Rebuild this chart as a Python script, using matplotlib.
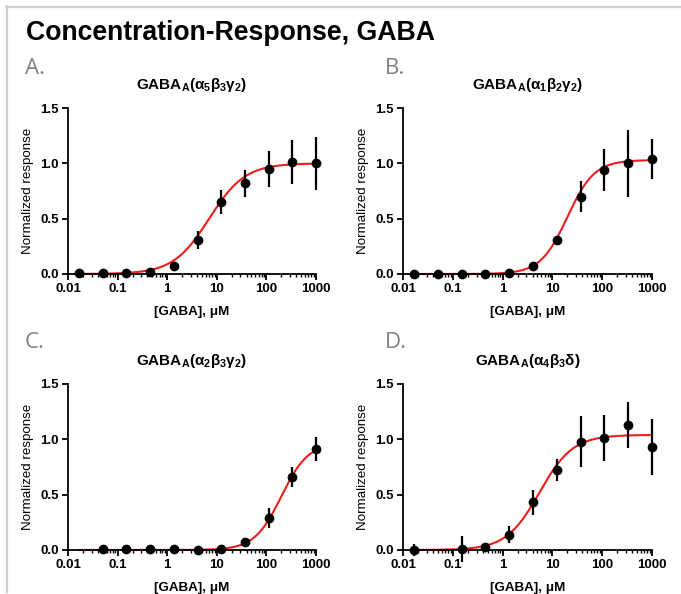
import matplotlib
matplotlib.use("Agg")
import matplotlib.pyplot as plt
import numpy as np
from matplotlib.lines import Line2D
from matplotlib.ticker import LogLocator, FixedLocator, NullFormatter

plt.rcParams["font.family"] = ["Liberation Sans", "DejaVu Sans"]
plt.rcParams["mathtext.fontset"] = "custom"
plt.rcParams["mathtext.rm"] = "Liberation Sans:bold"
plt.rcParams["mathtext.it"] = "Liberation Sans:bold"

# GABA concentrations, uM (3-fold dilution series)
conc = [0.0167, 0.05, 0.15, 0.45, 1.37, 4.1, 12.3, 37, 111, 333, 1000]

# panel A: a5b3g2
a_x = conc
a_y = [0.01, 0.01, 0.01, 0.02, 0.07, 0.31, 0.65, 0.82, 0.95, 1.01, 1.00]
a_err = [0.0, 0.0, 0.0, 0.01, 0.02, 0.08, 0.11, 0.12, 0.16, 0.20, 0.24]

# panel B: a1b2g2
b_x = conc
b_y = [0.0, 0.0, 0.0, 0.0, 0.01, 0.07, 0.31, 0.70, 0.94, 1.00, 1.04]
b_err = [0.0, 0.0, 0.0, 0.0, 0.0, 0.02, 0.02, 0.14, 0.19, 0.30, 0.18]

# panel C: a2b3g2 (no 0.0167 point)
c_x = conc[1:]
c_y = [0.01, 0.005, 0.005, 0.01, 0.0, 0.01, 0.07, 0.29, 0.66, 0.91]
c_err = [0.03, 0.0, 0.0, 0.0, 0.0, 0.01, 0.04, 0.09, 0.09, 0.11]

# panel D: a4b3d (no 0.05 point)
d_x = [conc[0]] + conc[2:]
d_y = [0.0, 0.01, 0.03, 0.14, 0.43, 0.72, 0.98, 1.01, 1.13, 0.93]
d_err = [0.05, 0.12, 0.03, 0.08, 0.11, 0.10, 0.23, 0.21, 0.21, 0.25]

# Hill fit parameters per panel: top, EC50 (uM), Hill slope
fit_top = [1.0, 1.03, 0.97, 1.04]
fit_ec50 = [7.0, 20.0, 200.0, 5.5]
fit_hill = [1.2, 1.6, 1.6, 1.3]

titles = [r"GABA$_{A}$(α$_{5}$β$_{3}$γ$_{2}$)",
          r"GABA$_{A}$(α$_{1}$β$_{2}$γ$_{2}$)",
          r"GABA$_{A}$(α$_{2}$β$_{3}$γ$_{2}$)",
          r"GABA$_{A}$(α$_{4}$β$_{3}$δ)"]
letters = ["A.", "B.", "C.", "D."]

W, H = 681, 594
fig = plt.figure(figsize=(W / 100, H / 100), dpi=100)

# gray frame (top and left)
fig.add_artist(Line2D([6 / W, 1], [1 - 6.5 / H] * 2, color="#cfcfcf", lw=1.6))
fig.add_artist(Line2D([6.5 / W] * 2, [1 - 6 / H, 1 - 592 / H], color="#cfcfcf", lw=1.6))

fig.text(26 / W, 1 - 33 / H, "Concentration-Response, GABA", fontsize=19.2,
         fontweight="bold", va="center", ha="left")

# axes boxes in pixels: left, right, top, bottom
boxes = [(68, 316, 108, 274), (403, 652, 108, 274),
         (68, 316, 384, 550), (403, 652, 384, 550)]
letter_pos = [(25, 68), (385, 68), (25, 342), (385, 342)]
data = [(a_x, a_y, a_err), (b_x, b_y, b_err), (c_x, c_y, c_err), (d_x, d_y, d_err)]

xfit = np.logspace(np.log10(conc[0]), 3, 300)

for i, (x, y, e) in enumerate(data):
    l, r, t, b = boxes[i]
    ax = fig.add_axes([l / W, 1 - b / H, (r - l) / W, (b - t) / H])
    yfit = fit_top[i] / (1 + (fit_ec50[i] / xfit) ** fit_hill[i])
    ax.plot(xfit, yfit, color="#ee1c1c", lw=1.5, zorder=2, clip_on=False)
    ax.errorbar(x, y, yerr=e, fmt="o", color="black", ms=6, elinewidth=1.6,
                capsize=0, zorder=3, clip_on=False)
    ax.set_xscale("log")
    ax.set_xlim(0.01, 1000)
    ax.set_ylim(0, 1.5)
    ax.xaxis.set_major_locator(FixedLocator([0.01, 0.1, 1, 10, 100, 1000]))
    ax.set_xticklabels(["0.01", "0.1", "1", "10", "100", "1000"])
    ax.xaxis.set_minor_locator(LogLocator(base=10, subs=np.arange(2, 10)))
    ax.xaxis.set_minor_formatter(NullFormatter())
    ax.set_yticks([0, 0.5, 1.0, 1.5])
    ax.set_yticklabels(["0.0", "0.5", "1.0", "1.5"])
    for s in ["top", "right"]:
        ax.spines[s].set_visible(False)
    for s in ["left", "bottom"]:
        ax.spines[s].set_linewidth(1.3)
    ax.tick_params(which="major", direction="out", length=4, width=1.3,
                   labelsize=9.5, pad=2.5)
    ax.tick_params(which="minor", direction="out", length=2.5, width=1.0)
    for lab in ax.get_xticklabels() + ax.get_yticklabels():
        lab.set_fontweight("bold")
    ax.set_xlabel("[GABA], μM", fontsize=9.6, fontweight="bold", labelpad=8)
    ax.set_ylabel("Normalized response", fontsize=9.6, labelpad=5)
    ax.set_title(titles[i], fontsize=11, fontweight="bold", pad=14)
    lx, ly = letter_pos[i]
    fig.text(lx / W, 1 - ly / H, letters[i], fontsize=16, color="#808080",
             family=["Open Sans", "DejaVu Sans"], va="center", ha="left")

fig.savefig("out.png", dpi=100)
